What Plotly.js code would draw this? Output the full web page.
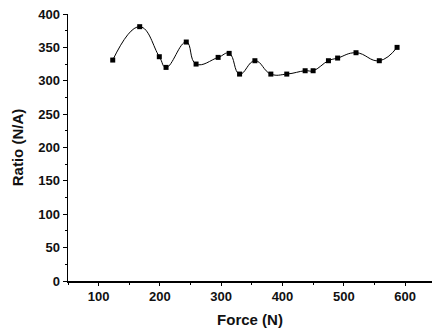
<!DOCTYPE html>
<html><head><meta charset="utf-8">
<script src="https://cdn.plot.ly/plotly-3.0.1.min.js"></script>
<style>html,body{margin:0;padding:0;background:#fff}#c{width:432px;height:334px}</style>
</head><body><div id="c"></div>
<script>
const force = [123,167,199,210,243,259,295,313,330,355,381,407,437,450,475,490,520,558,587];
const ratio = [331,381,336,320,358,325,335,341,310,330,310,310,315,315,330,334,342,330,350];
const xTicks = [100,200,300,400,500,600];
const yTicks = [0,50,100,150,200,250,300,350,400];

const fam = 'Liberation Sans, Arial, sans-serif';
const tickFont = {family:fam, size:13, color:'#111', weight:'bold'};
const titleFont = {family:fam, size:15, color:'#111', weight:'bold'};
Plotly.newPlot('c', [{
  x: force, y: ratio, type:'scatter', mode:'lines+markers',
  line:{shape:'spline', smoothing:1.3, color:'#000', width:1},
  marker:{symbol:'square', size:5, color:'#000'}
}], {
  width:432, height:334,
  margin:{l:68, r:0, t:14, b:53},
  paper_bgcolor:'#fff', plot_bgcolor:'#fff',
  showlegend:false, font:{family:fam, size:13, color:'#111'},
  xaxis:{range:[50,644], tickvals:xTicks, ticktext:xTicks.map(String), showgrid:false, zeroline:false,
    showline:true, linecolor:'#000', linewidth:1.5, ticks:'outside', ticklen:3, tickcolor:'#000',
    tickfont:tickFont,
    minor:{dtick:50, tick0:0, ticks:'outside', ticklen:2, tickcolor:'#000'},
    title:{text:'Force (N)', font:titleFont, standoff:11}},
  yaxis:{range:[0,400], tickvals:yTicks, ticktext:yTicks.map(String), showgrid:false, zeroline:false,
    showline:true, linecolor:'#000', linewidth:1.5, ticks:'outside', ticklen:4, tickcolor:'#000',
    tickfont:tickFont,
    minor:{dtick:25, tick0:0, ticks:'outside', ticklen:2, tickcolor:'#000'},
    title:{text:'Ratio (N/A)', font:titleFont, standoff:11}}
}, {staticPlot:true, displayModeBar:false});
</script></body></html>
